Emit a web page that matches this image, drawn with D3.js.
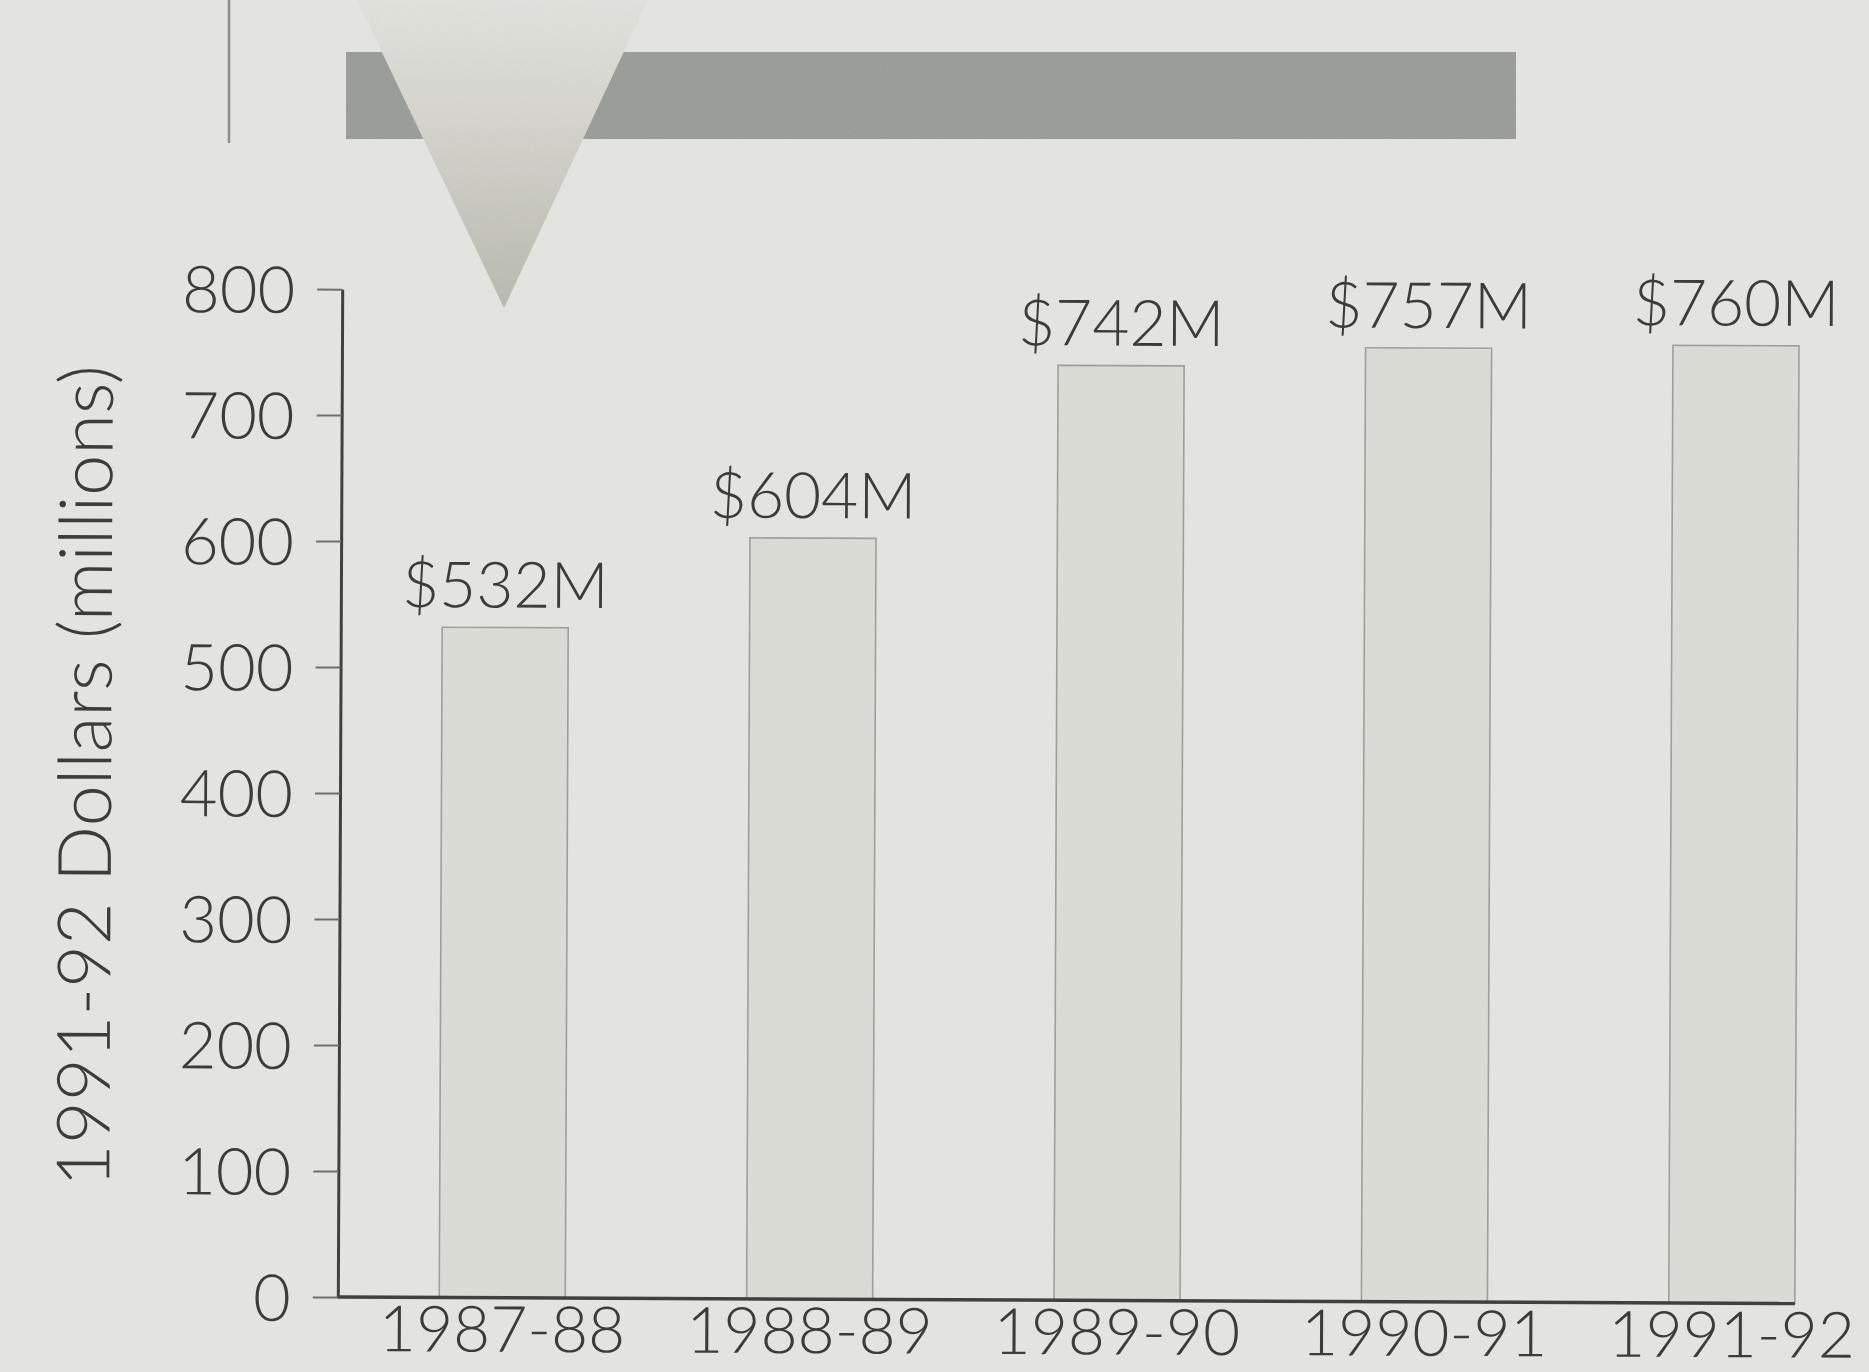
<!DOCTYPE html>
<html>
<head>
<meta charset="utf-8">
<script src="https://cdn.jsdelivr.net/npm/d3@7"></script>
<style>
  html, body { margin: 0; padding: 0; background: #e3e4df; }
  svg { display: block; }
  text { font-family: Lato, "Open Sans", sans-serif; fill: #3b3d39; }
</style>
</head>
<body>
<svg id="chart" width="1869" height="1372"></svg>
<script>
// Annual spending, in constant 1991-92 dollars (millions)
const years = ["1987-88", "1988-89", "1989-90", "1990-91", "1991-92"];
const spending = [532, 604, 742, 757, 760];
const yTicks = [0, 100, 200, 300, 400, 500, 600, 700, 800];
const yTitle = "1991-92 Dollars (millions)";

const W = 1869, H = 1372;
const plot = { left: 340, right: 1797, top: 292, bottom: 1300 };

const svg = d3.select("#chart");

// page background
svg.append("rect").attr("width", W).attr("height", H).attr("fill", "#e3e4df");

// grain used on the printed header shapes
const defs = svg.append("defs");
const grain = defs.append("filter").attr("id", "grain").attr("x", 0).attr("y", 0).attr("width", 1).attr("height", 1);
grain.append("feTurbulence").attr("type", "fractalNoise").attr("baseFrequency", 0.9).attr("numOctaves", 2).attr("seed", 3).attr("result", "n");
grain.append("feColorMatrix").attr("in", "n").attr("type", "matrix")
  .attr("values", "0 0 0 0 0  0 0 0 0 0  0 0 0 0 0  0 0 0 0.10 0").attr("result", "na");
grain.append("feComposite").attr("in", "na").attr("in2", "SourceGraphic").attr("operator", "in").attr("result", "nc");
grain.append("feMerge").selectAll("feMergeNode").data(["SourceGraphic", "nc"]).join("feMergeNode").attr("in", d => d);

const triGrad = defs.append("linearGradient").attr("id", "triGrad")
  .attr("x1", 0).attr("y1", 0).attr("x2", 0).attr("y2", 1);
triGrad.append("stop").attr("offset", "0%").attr("stop-color", "#e6e6e1");
triGrad.append("stop").attr("offset", "40%").attr("stop-color", "#d8d8d1");
triGrad.append("stop").attr("offset", "100%").attr("stop-color", "#bcbdb3");

// header decoration: rule, bar and downward pointer
const header = svg.append("g");
header.append("line")
  .attr("x1", 229).attr("x2", 229).attr("y1", 0).attr("y2", 143)
  .attr("stroke", "#8d8e86").attr("stroke-width", 2.5);
header.append("rect")
  .attr("x", 346).attr("y", 52).attr("width", 1170).attr("height", 87)
  .attr("fill", "#9fa19d").attr("filter", "url(#grain)");
header.append("path")
  .attr("d", d3.line()([[357, 0], [648, 0], [504, 308]]) + "Z")
  .attr("fill", "url(#triGrad)").attr("filter", "url(#grain)");

// chart group, printed very slightly askew
const g = svg.append("g").attr("transform", "rotate(0.25, 1000, 800)");

const x = d3.scaleBand()
  .domain(years)
  .range([plot.left, plot.right])
  .paddingInner(0.59)
  .paddingOuter(0.165)
  .align(1);

const y = d3.scaleLinear()
  .domain([0, 800])
  .range([plot.bottom, plot.top]);

// bars
g.append("g").selectAll("rect")
  .data(spending)
  .join("rect")
  .attr("x", (d, i) => x(years[i]))
  .attr("y", d => y(d))
  .attr("width", x.bandwidth())
  .attr("height", d => y(0) - y(d))
  .attr("fill", "#dbdbd6")
  .attr("stroke", "#9fa098")
  .attr("stroke-width", 1.6);

// value labels above bars
g.append("g").selectAll("text")
  .data(spending)
  .join("text")
  .attr("x", (d, i) => x(years[i]) + x.bandwidth() / 2)
  .attr("y", d => y(d) - 20)
  .attr("text-anchor", "middle")
  .attr("font-size", 64)
  .attr("font-weight", 300)
  .text(d => `$${d}M`);

// y axis
const yAxis = g.append("g")
  .attr("transform", `translate(${plot.left},0)`)
  .call(d3.axisLeft(y).tickValues(yTicks).tickSize(25).tickSizeOuter(0).tickPadding(22));
yAxis.select(".domain").attr("stroke", "#3f413d").attr("stroke-width", 3);
yAxis.selectAll(".tick line").attr("stroke", "#6e706b").attr("stroke-width", 2);
yAxis.selectAll(".tick text")
  .attr("font-size", 65)
  .attr("font-weight", 300)
  .attr("font-family", "Lato, 'Open Sans', sans-serif")
  .attr("fill", "#3b3d39")
  .attr("dy", "0.36em");

// x axis: baseline and category labels, no ticks
const xAxis = g.append("g")
  .attr("transform", `translate(0,${plot.bottom})`)
  .call(d3.axisBottom(x).tickSize(0).tickSizeOuter(0).tickPadding(0));
xAxis.select(".domain")
  .attr("d", `M${plot.left},0H${plot.right}`)
  .attr("stroke", "#3f413d").attr("stroke-width", 3.5);
xAxis.selectAll(".tick text")
  .attr("font-size", 64)
  .attr("font-weight", 300)
  .attr("font-family", "Lato, 'Open Sans', sans-serif")
  .attr("fill", "#3b3d39")
  .attr("dy", null)
  .attr("y", 54);

// y axis title
g.append("text")
  .attr("transform", "translate(111,780) rotate(-90)")
  .attr("text-anchor", "middle")
  .attr("font-size", 74)
  .attr("font-weight", 300)
  .text(yTitle);
</script>
</body>
</html>
